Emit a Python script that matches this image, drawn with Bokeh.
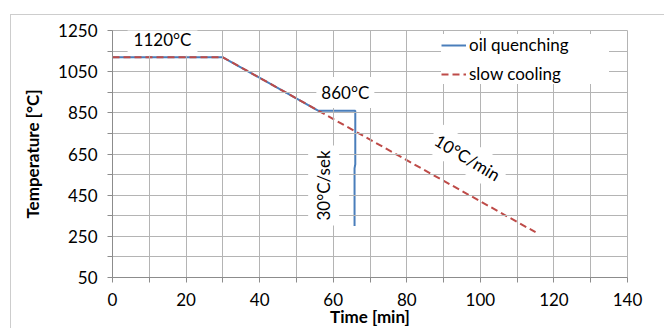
from bokeh.plotting import figure
from bokeh.models import (FixedTicker, Label, Legend, LegendItem, Range1d)
from bokeh.embed import file_html
from bokeh.resources import INLINE

# ---- data ----
oil_time = [0, 30, 56, 66, 66, 65.8, 65.8]
oil_temp = [1120, 1120, 860, 860, 600, 580, 300]
slow_time = [0, 30, 56, 115]
slow_temp = [1120, 1120, 860, 270]

x_ticks = [0, 20, 40, 60, 80, 100, 120, 140]
x_minor = [10, 30, 50, 70, 90, 110, 130]
y_ticks = [50, 250, 450, 650, 850, 1050, 1250]
y_minor = [150, 350, 550, 750, 950, 1150]

FONT = "Lato"
GRID = "#b4b4b4"
AXIS = "#8c8c8c"

p = figure(width=654, height=314, output_backend="svg", toolbar_location=None,
           x_range=Range1d(0, 140), y_range=Range1d(50, 1250),
           min_border_left=101, min_border_right=38, min_border_top=15,
           min_border_bottom=52, background_fill_color="white",
           border_fill_color="white", outline_line_color=GRID)
# light-grey chart-area border (only its left and top edges fall in the window)
p.styles = {"border-left": "1px solid #cdcdcd", "border-top": "1px solid #cdcdcd",
            "margin-left": "10px", "margin-top": "14px"}

xt = FixedTicker(ticks=x_ticks, minor_ticks=x_minor)
yt = FixedTicker(ticks=y_ticks, minor_ticks=y_minor)
p.xaxis.ticker = xt
p.yaxis.ticker = yt
p.xgrid.ticker = xt
p.ygrid.ticker = yt
for ax in (p.xaxis, p.yaxis):
    ax.axis_line_color = AXIS
    ax.major_tick_line_color = AXIS
    ax.minor_tick_line_color = AXIS
    ax.major_tick_in = 0
    ax.minor_tick_in = 0
    ax.major_tick_out = 5
    ax.minor_tick_out = 5
    ax.major_label_text_font = FONT
    ax.major_label_text_font_size = "17px"
    ax.major_label_text_color = "black"
    ax.axis_label_text_font = FONT
    ax.axis_label_text_font_size = "17px"
    ax.axis_label_text_font_style = "bold"
    ax.axis_label_text_color = "black"
p.xaxis.axis_label = "Time [min]"
p.yaxis.axis_label = "Temperature [°C]"
p.xaxis.major_label_standoff = 10
p.xaxis.axis_label_standoff = -3
p.yaxis.major_label_standoff = 10
p.yaxis.axis_label_standoff = 12

for g in (p.xgrid, p.ygrid):
    g.grid_line_color = GRID
    g.minor_grid_line_color = GRID
    g.level = "glyph"

r_oil = p.line(oil_time, oil_temp, line_color="#4a7ebb", line_width=2)
r_slow = p.line(slow_time, slow_temp, line_color="#be4b48", line_width=2,
                line_dash="7 4")

def lab(x, y, text, angle=0, pad=4):
    l = Label(x=x, y=y, text=text, angle=angle, angle_units="deg",
              text_align="center", text_baseline="middle",
              text_font=FONT, text_font_size="17px", text_color="black",
              background_fill_color="white", padding=pad)
    p.add_layout(l)

lab(13.6, 1208, "1120°C", pad=6)
lab(63.3, 949, "860°C", pad=5)
lab(57.4, 497, "30°C/sek", angle=90, pad=5)
lab(96.5, 633, "10°C/min", angle=-31, pad=5)

legend = Legend(items=[LegendItem(label="oil quenching", renderers=[r_oil]),
                       LegendItem(label="slow cooling", renderers=[r_slow])],
                location=(329, 193), orientation="vertical",
                label_text_font=FONT, label_text_font_size="17px",
                label_text_color="black", glyph_width=25, glyph_height=20,
                label_height=20, label_standoff=3, spacing=8, padding=6,
                margin=0, border_line_color=None, background_fill_color="white",
                background_fill_alpha=1.0, label_width=140)
p.add_layout(legend)

open("out.html", "w").write(file_html(p, INLINE))
